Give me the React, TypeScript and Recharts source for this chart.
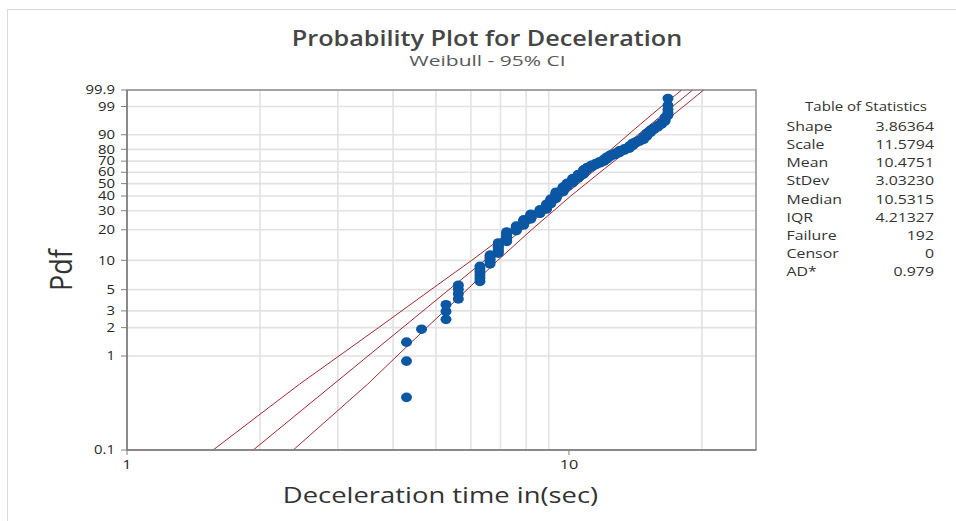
import React from 'react';
import { ComposedChart, Scatter, Line, XAxis, YAxis, CartesianGrid, ReferenceArea } from 'recharts';

// Deceleration times (sec), grouped by plotted stack, with number of failures in each stack
const decelTimes = [4.29, 4.64, 5.27, 5.62, 6.29, 6.63, 6.92, 7.23, 7.6, 7.9, 8.2, 8.6, 8.9, 9.1, 9.35, 9.7, 9.9, 10.2, 10.5, 10.8, 11.0, 11.25, 11.5, 11.75, 12.0, 12.2, 12.4, 12.7, 13.0, 13.35, 13.7, 13.95, 14.2, 14.45, 14.75, 15.0, 15.3, 15.6, 15.9, 16.2, 16.5, 16.75];
const decelCounts = [3, 1, 3, 4, 6, 5, 7, 8, 5, 6, 6, 5, 7, 7, 10, 8, 6, 8, 7, 8, 4, 4, 3, 3, 4, 4, 3, 3, 4, 3, 4, 4, 2, 2, 4, 4, 3, 2, 2, 2, 3, 5];

// Fitted Weibull line (time, percent)
const fitTimes = [1.93, 19.05];
const fitPct = [0.1, 99.9];

// 95% confidence bounds (time at each percent)
const ciPct = [0.1, 0.5, 1, 2, 5, 10, 20, 40, 63.2, 80, 95, 99, 99.9];
const ciLowTimes = [1.566, 2.453, 3.016, 3.709, 4.871, 6.026, 7.452, 9.331, 11.074, 12.466, 14.526, 16.19, 17.99];
const ciHighTimes = [2.378, 3.499, 4.081, 4.765, 5.88, 6.901, 8.229, 10.09, 12.036, 13.69, 16.2, 18.16, 20.17];

const yTickPct = [0.1, 1, 2, 3, 5, 10, 20, 30, 40, 50, 60, 70, 80, 90, 99, 99.9];
const xTickVals = [1, 10];
const xGridVals = [2, 3, 4, 5, 6, 7, 8, 9, 20];
const xDomain = [1, 26.5];

const statLabels = ['Shape', 'Scale', 'Mean', 'StDev', 'Median', 'IQR', 'Failure', 'Censor', 'AD*'];
const statValues = ['3.86364', '11.5794', '10.4751', '3.03230', '10.5315', '4.21327', '192', '0', '0.979'];

const FONT = '"Open Sans", "Noto Sans", sans-serif';
const DOT = '#0B57A4';
const RED = '#A3292E';

const weib = (pct: number) => Math.log(-Math.log(1 - pct / 100));

const total = decelCounts.reduce((a, b) => a + b, 0);
const points: { x: number; w: number }[] = [];
let rank = 0;
decelTimes.forEach((t, gi) => {
  for (let k = 0; k < decelCounts[gi]; k++) {
    rank += 1;
    const pct = ((rank - 0.3) / (total + 0.4)) * 100;
    points.push({ x: t, w: weib(pct) });
  }
});

const fitData = fitTimes.map((x, i) => ({ x, w: weib(fitPct[i]) }));
const ciLowData = ciLowTimes.map((x, i) => ({ x, w: weib(ciPct[i]) }));
const ciHighData = ciHighTimes.map((x, i) => ({ x, w: weib(ciPct[i]) }));
const yTicks = yTickPct.map(weib);
const yDomain = [weib(0.1), weib(99.9)];

const fmtY = (v: number) => {
  let best = 0;
  yTicks.forEach((t, i) => {
    if (Math.abs(t - v) < Math.abs(yTicks[best] - v)) best = i;
  });
  return String(yTickPct[best]);
};

type STextProps = {
  x: number; y: number; sx?: number; size: number; anchor?: 'start' | 'middle' | 'end';
  weight?: number; fill?: string; rotate?: number; children: React.ReactNode;
};
const SText = ({ x, y, sx = 1.2, size, anchor = 'start', weight = 400, fill = '#333', rotate = 0, children }: STextProps) => (
  <text
    x={0}
    y={0}
    transform={`translate(${x},${y}) scale(${sx},1)${rotate ? ` rotate(${rotate})` : ''}`}
    textAnchor={anchor}
    fontSize={size}
    fontWeight={weight}
    fill={fill}
    fontFamily={FONT}
  >
    {children}
  </text>
);

const YTick = (props: any) => {
  const { x, y, payload } = props;
  return (
    <SText x={x} y={y + 4.2} size={12} anchor="end" sx={1.24} fill="#262626">
      {fmtY(payload.value)}
    </SText>
  );
};

const XTick = (props: any) => {
  const { x, y, payload } = props;
  return (
    <SText x={x} y={y + 10} size={13} anchor="middle" sx={1.25} fill="#262626">
      {String(payload.value)}
    </SText>
  );
};

const Dot = (props: any) => {
  const { cx, cy } = props;
  if (cx == null || cy == null) return null;
  return <ellipse cx={cx} cy={cy} rx={5.5} ry={4.8} fill={DOT} />;
};

export default function App() {
  return (
    <div style={{ position: 'absolute', left: 0, top: 0, width: 956, height: 521, background: '#fff', overflow: 'hidden' }}>
      <div style={{ position: 'absolute', left: 7, top: 9, width: 949, height: 512, borderTop: '1.5px solid #dadada', borderLeft: '1.5px solid #dadada' }} />
      <div style={{ position: 'absolute', left: 0, top: 0 }}>
        <ComposedChart width={956} height={521} margin={{ top: 90, right: 200, bottom: 41, left: 67 }}>
          <CartesianGrid stroke="#e2e2e2" strokeWidth={1.6} verticalValues={xGridVals} horizontal={true} vertical={true} />
          <XAxis
            dataKey="x"
            type="number"
            scale="log"
            domain={xDomain}
            allowDataOverflow
            ticks={xTickVals}
            tick={<XTick />}
            tickSize={5}
            tickMargin={4}
            height={30}
            axisLine={{ stroke: '#808080', strokeWidth: 1.5 }}
            tickLine={{ stroke: '#808080' }}
          />
          <YAxis
            dataKey="w"
            type="number"
            domain={yDomain}
            allowDataOverflow
            ticks={yTicks}
            interval={0}
            tick={<YTick />}
            tickSize={6}
            tickMargin={6}
            width={60}
            axisLine={{ stroke: '#808080', strokeWidth: 1.5 }}
            tickLine={{ stroke: '#808080' }}
          />
          <ReferenceArea x1={xDomain[0]} x2={xDomain[1]} y1={yDomain[0]} y2={yDomain[1]} fill="none" fillOpacity={0} stroke="#8c8c8c" strokeWidth={1.5} />
          <Scatter data={points} dataKey="w" shape={<Dot />} isAnimationActive={false} />
          <Line data={ciLowData} dataKey="w" type="linear" stroke={RED} strokeWidth={1} dot={false} activeDot={false} isAnimationActive={false} />
          <Line data={fitData} dataKey="w" type="linear" stroke={RED} strokeWidth={1} dot={false} activeDot={false} isAnimationActive={false} />
          <Line data={ciHighData} dataKey="w" type="linear" stroke={RED} strokeWidth={1} dot={false} activeDot={false} isAnimationActive={false} />
        </ComposedChart>
      </div>
      <svg width={956} height={521} style={{ position: 'absolute', left: 0, top: 0, pointerEvents: 'none' }}>
        <SText x={487} y={45.5} size={21} sx={1.2} anchor="middle" weight={600} fill="#454545">
          Probability Plot for Deceleration
        </SText>
        <SText x={487.5} y={66} size={15} sx={1.4} anchor="middle" fill="#595959">
          Weibull - 95% CI
        </SText>
        <SText x={72} y={270} size={27} sx={1.12} rotate={-90} anchor="middle" fill="#333">
          Pdf
        </SText>
        <SText x={440.5} y={503} size={22} sx={1.245} anchor="middle" fill="#333">
          Deceleration time in(sec)
        </SText>
        <SText x={866} y={110.5} size={13} sx={1.16} anchor="middle" fill="#333">
          Table of Statistics
        </SText>
        {statLabels.map((lab, i) => (
          <SText key={lab} x={786.5} y={130.8 + i * 18.2} size={13} sx={1.22} fill="#333">
            {lab}
          </SText>
        ))}
        {statValues.map((val, i) => (
          <SText key={'v' + i} x={934} y={130.8 + i * 18.2} size={13} sx={1.22} anchor="end" fill="#333">
            {val}
          </SText>
        ))}
      </svg>
    </div>
  );
}
